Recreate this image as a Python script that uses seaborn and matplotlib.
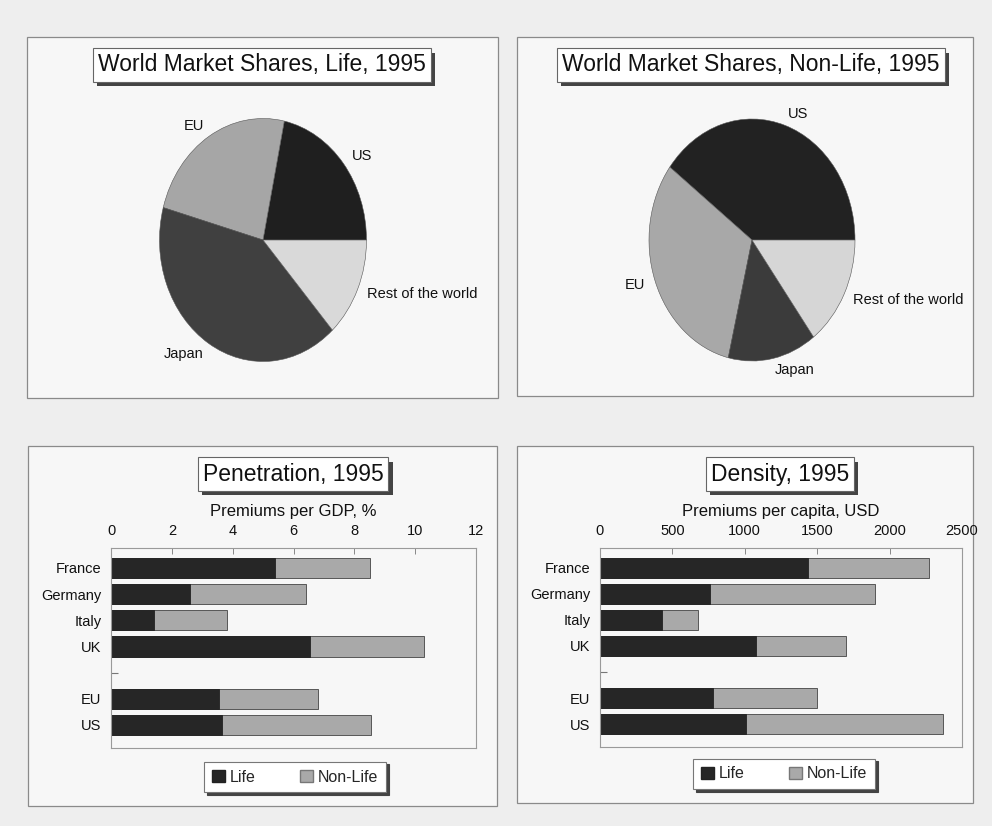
import numpy as np
import pandas as pd
import matplotlib
matplotlib.use("Agg")
import matplotlib.pyplot as plt
from matplotlib.patches import Rectangle, Patch
import matplotlib.patheffects as pe
import seaborn as sns

# ---------------- data ----------------
regions = ["US", "EU", "Japan", "Rest of the world"]
life_shares = [21.7, 24.0, 41.0, 13.3]
nonlife_shares = [39.7, 31.6, 13.9, 14.8]

countries = ["France", "Germany", "Italy", "UK", "EU", "US"]
cat_order = ["France", "Germany", "Italy", "UK", " ", "EU", "US"]
pen_life = [5.4, 2.6, 1.4, 6.55, 3.55, 3.65]
pen_nonlife = [3.1, 3.8, 2.4, 3.75, 3.25, 4.9]
den_life = [1435, 760, 428, 1078, 780, 1008]
den_nonlife = [838, 1140, 249, 622, 719, 1364]

pen_ticks = [0, 2, 4, 6, 8, 10, 12]
den_ticks = [0, 500, 1000, 1500, 2000, 2500]

titles = ["World Market Shares, Life, 1995", "World Market Shares, Non-Life, 1995",
          "Penetration, 1995", "Density, 1995"]
xlabels = ["Premiums per GDP, %", "Premiums per capita, USD"]
legend_labels = ["Life", "Non-Life"]

# ---------------- style ----------------
sns.set_theme(style="white")
plt.rcParams["font.family"] = ["Liberation Sans", "DejaVu Sans"]

W, H = 992, 826
fig = plt.figure(figsize=(W / 100, H / 100), dpi=100)
fig.patch.set_facecolor("#eeeeee")


def rect(x0, y0, x1, y1):
    return [x0 / W, 1 - y1 / H, (x1 - x0) / W, (y1 - y0) / H]


def fx(x):
    return x / W


def fy(y):
    return 1 - y / H


# panel frames
for (x0, y0, x1, y1) in [(27, 37, 498, 398), (517, 37, 973, 396),
                         (28, 446, 497, 806), (517, 446, 973, 803)]:
    fig.patches.append(Rectangle((fx(x0), fy(y1)), fx(x1 - x0), (y1 - y0) / H,
                                 transform=fig.transFigure, facecolor="#f7f7f7",
                                 edgecolor="#8a8a8a", linewidth=0.9, zorder=-10))

# titles with shadowed boxes
shadow = [pe.withSimplePatchShadow(offset=(3, -3), shadow_rgbFace="#444444", alpha=1.0)]
for txt, (cx, cy) in zip(titles, [(262, 65), (751, 65), (293, 474), (780, 474)]):
    t = fig.text(fx(cx), fy(cy), txt, ha="center", va="center", fontsize=16.5,
                 color="#111111",
                 bbox=dict(boxstyle="square,pad=0.22", facecolor="white",
                           edgecolor="#666666", linewidth=0.8))
    t.get_bbox_patch().set_path_effects(shadow)

# ---------------- pies ----------------
life_colors = ["#1f1f1f", "#a6a6a6", "#404040", "#d9d9d9"]
nonlife_colors = ["#222222", "#a8a8a8", "#3b3b3b", "#d6d6d6"]
for vals, cols, r in [(life_shares, life_colors, (159.5, 118.5, 366.5, 361.5)),
                      (nonlife_shares, nonlife_colors, (649, 119, 855, 361))]:
    ax = fig.add_axes(rect(*r))
    ax.pie(vals, labels=regions, colors=cols, startangle=0, counterclock=True,
           labeldistance=1.1,
           wedgeprops=dict(edgecolor="#555555", linewidth=0.4),
           textprops=dict(fontsize=10.5, color="#111111"))
    ax.set_aspect("auto")
    ax.set_xlim(-1, 1)
    ax.set_ylim(-1, 1)
    ax.set_axis_off()

# ---------------- bars ----------------
dark = "#262626"
light = "#a9a9a9"
bar_specs = [
    (pen_life, pen_nonlife, pen_ticks, xlabels[0], (111, 548, 476, 748), (295, 777)),
    (den_life, den_nonlife, den_ticks, xlabels[1], (600, 548, 962, 747), (784, 774)),
]
for life, nonlife, ticks, xlabel, r, (lx, ly) in bar_specs:
    ax = fig.add_axes(rect(*r))
    ax.set_facecolor("none")
    df = pd.DataFrame({"country": countries, "life": life, "nonlife": nonlife})
    df["total"] = df["life"] + df["nonlife"]
    sns.barplot(data=df, y="country", x="total", order=cat_order, orient="h",
                color=light, saturation=1, width=0.77, edgecolor="#444444",
                linewidth=0.6, ax=ax)
    sns.barplot(data=df, y="country", x="life", order=cat_order, orient="h",
                color=dark, saturation=1, width=0.77, edgecolor="#222222",
                linewidth=0.6, ax=ax)
    ax.set_xlim(ticks[0], ticks[-1])
    ax.set_ylim(6.88, -0.76)
    ax.set_xticks(ticks)
    ax.set_xticklabels([str(t) for t in ticks])
    ax.xaxis.tick_top()
    ax.xaxis.set_label_position("top")
    ax.set_xlabel(xlabel, fontsize=12, labelpad=6, color="#111111")
    ax.set_ylabel("")
    ax.tick_params(axis="x", direction="in", length=4, width=0.6, color="#777777",
                   labelsize=10.5, pad=7, labelcolor="#111111", top=True, bottom=False)
    ax.tick_params(axis="y", which="major", length=0, labelsize=10.5, pad=7,
                   labelcolor="#111111")
    ax.yaxis.remove_overlapping_locs = False
    ax.set_yticks([4], minor=True)
    ax.tick_params(axis="y", which="minor", direction="in", length=5, width=0.8,
                   color="#777777", left=True)
    for s in ax.spines.values():
        s.set_visible(True)
        s.set_color("#9a9a9a")
        s.set_linewidth(0.8)

    handles = [Patch(facecolor=dark, edgecolor="#222222"),
               Patch(facecolor=light, edgecolor="#777777")]
    leg = fig.legend(handles, legend_labels, loc="center", bbox_to_anchor=(fx(lx), fy(ly)),
                     ncol=2, fontsize=11.5, frameon=True, fancybox=False,
                     shadow={"color": "#444444", "alpha": 1.0},
                     handlelength=0.8, handleheight=0.8, handletextpad=0.3,
                     columnspacing=2.8, borderpad=0.5)
    leg.get_frame().set_edgecolor("#777777")
    leg.get_frame().set_facecolor("white")
    leg.get_frame().set_linewidth(0.8)

fig.savefig("out.png", dpi=100, facecolor=fig.get_facecolor())
